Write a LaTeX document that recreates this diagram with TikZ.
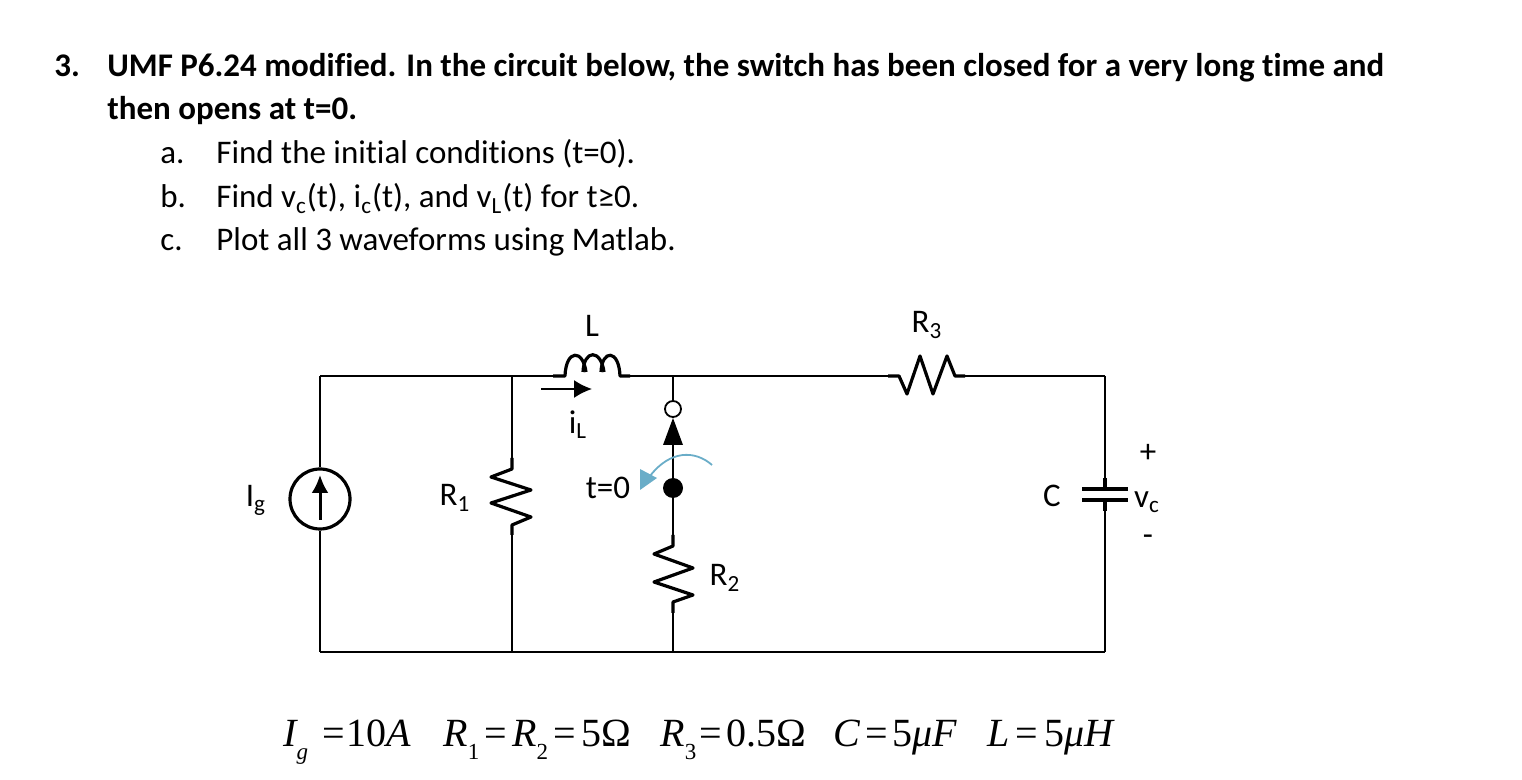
\documentclass[tikz,border=0pt]{standalone}
\usepackage{fontspec}
\usepackage{tikz}
\usetikzlibrary{arrows.meta}
\setmainfont[Ligatures=NoCommon]{Carlito}
\newfontfamily\timesfont{Liberation Serif}
\definecolor{swing}{HTML}{6AADC8}

\tikzset{
    wire/.style={color=black, line width=0.9pt},
    part/.style={color=black, line width=1.6pt, line join=round},
    line1/.style={anchor=base west, inner sep=0pt, font=\fontsize{16.5}{18}\selectfont\bfseries},
    line2/.style={anchor=base west, inner sep=0pt, font=\fontsize{16.5}{18}\selectfont},
    lab/.style={inner sep=0pt, font=\fontsize{16.5}{18}\selectfont},
    given/.style={anchor=base west, inner sep=0pt, font=\fontsize{20}{22}\timesfont\itshape},
}
\newcommand{\sbs}[1]{\textsubscript{#1}}
\newcommand{\low}[1]{\raisebox{-6pt}{\fontsize{11.5}{12}\selectfont #1}}
\newcommand{\upr}[1]{{\upshape #1}}

\begin{document}
\begin{tikzpicture}[x=0.5pt,y=-0.5pt]
    \def\xa{320}
    \def\xb{512}
    \def\xc{673}
    \def\xd{1105}
    \def\ya{376}
    \def\yb{652}

    \useasboundingbox (0,0) rectangle (1522,780);

    % question text
    \node[line1] (num) at (54,77) {3.};
    \node[line1] (title) at (107,77) {UMF P6.24 modified. In the circuit below, the switch has been closed for a very long time and};
    \node[line1] (title2) at (107,120) {then opens at t=0.};
    \node[line2] (ma) at (160,164) {a.};
    \node[line2] (ta) at (216,164) {Find the initial conditions (t=0).};
    \node[line2] (mb) at (160,208) {b.};
    \node[line2] (tb) at (216,208) {Find v\sbs{c}(t), i\sbs{c}(t), and v\sbs{L}(t) for t≥0.};
    \node[line2] (mc) at (160,251) {c.};
    \node[line2] (tc) at (216,251) {Plot all 3 waveforms using Matlab.};

    \coordinate (tl) at (\xa,\ya);
    \coordinate (bl) at (\xa,\yb);
    \coordinate (ta1) at (\xb,\ya);
    \coordinate (ba1) at (\xb,\yb);
    \coordinate (ta2) at (\xc,\ya);
    \coordinate (ba2) at (\xc,\yb);
    \coordinate (tr) at (\xd,\ya);
    \coordinate (br) at (\xd,\yb);

    % source
    \node[circle, draw, line width=1.6pt, minimum size=30pt, inner sep=0pt] (ig) at (\xa,499) {};
    \draw[wire] (tl) -- (ig);
    \draw[wire] (ig) -- (bl);
    \draw[line width=1.5pt, -{Latex[length=9pt,width=8.5pt]}] (\xa,520) -- (\xa,475);

    % inductor
    \coordinate (la) at (553,\ya);
    \coordinate (lb) at (630,\ya);
    \draw[wire] (ta1) -- (la);
    \draw[part] (la) -- (565,\ya) .. controls (566,349) and (583,349) .. (586,372);
    \draw[part] (583,372) .. controls (584,349) and (601,349) .. (604,372);
    \draw[part] (601,372) .. controls (602,349) and (619,349) .. (620,\ya) -- (lb);
    \draw[wire] (lb) -- (ta2);

    % R3
    \coordinate (ra) at (888,\ya);
    \coordinate (rb) at (965,\ya);
    \draw[wire] (ta2) -- (ra);
    \draw[part] (ra) -- (899,\ya) -- (907,394) -- (920,356) -- (933,394) -- (947,356) -- (955,\ya) -- (rb);
    \draw[wire] (rb) -- (tr);

    % R1
    \coordinate (r1a) at (\xb,458);
    \coordinate (r1b) at (\xb,535);
    \draw[wire] (ta1) -- (r1a);
    \draw[part] (r1a) -- (\xb,469) -- (491,477) -- (531,490) -- (491,503) -- (531,517) -- (\xb,525) -- (r1b);
    \draw[wire] (r1b) -- (ba1);

    % switch
    \node[circle, draw, line width=0.9pt, fill=white, minimum size=8pt, inner sep=0pt] (sw) at (\xc,409) {};
    \node[circle, fill=black, minimum size=10pt, inner sep=0pt] (pole) at (\xc,488) {};
    \coordinate (tri) at (\xc,445);
    \draw[wire] (ta2) -- (sw);
    \draw[wire] (tri) -- (pole);
    \fill (\xc,418) -- (663,445) -- (683,445) -- cycle;
    \draw[color=swing, line width=0.9pt] (712,465) .. controls (695,450) and (670,450) .. (650,476);
    \fill[swing] (640,490) -- (640,469) -- (657,478) -- cycle;

    % R2
    \coordinate (r2a) at (\xc,535);
    \coordinate (r2b) at (\xc,613);
    \draw[wire] (pole) -- (r2a);
    \draw[part] (r2a) -- (\xc,546) -- (654,554) -- (693,568) -- (654,582) -- (693,595) -- (\xc,602) -- (r2b);
    \draw[wire] (r2b) -- (ba2);

    % capacitor
    \coordinate (ca) at (\xd,478);
    \coordinate (cb) at (\xd,511);
    \draw[wire] (tr) -- (ca);
    \draw[part] (ca) -- (\xd,489);
    \draw[part] (\xd,500) -- (cb);
    \draw[wire] (cb) -- (br);
    \draw[part] (1082,489) -- (1128,489);
    \draw[part] (1082,500) -- (1128,500);

    % rails
    \draw[wire] (tl) -- (ta1);
    \draw[wire] (bl) -- (ba1);
    \draw[wire] (ba1) -- (ba2);
    \draw[wire] (ba2) -- (br);

    % arrow for the inductor current
    \coordinate (ila) at (541,389);
    \coordinate (ilb) at (592,389);
    \draw[wire, -{Latex[length=9pt,width=9pt]}] (ila) -- (ilb);

    % labels
    \node[lab] (lig) at (256,500) {I\sbs{g}};
    \node[lab] (lr1) at (455,498) {R\sbs{1}};
    \node[lab] (lr2) at (725,578) {R\sbs{2}};
    \node[lab] (lr3) at (927,325) {R\sbs{3}};
    \node[lab] (ll) at (592,326) {L};
    \node[lab] (lil) at (578,425) {i\sbs{L}};
    \node[lab] (lt) at (608,488) {t=0};
    \node[lab] (lc) at (1052,496) {C};
    \node[lab] (lvc) at (1147,502) {v\sbs{c}};
    \node[lab] (lp) at (1148,453) {+};
    \node[lab] (lm) at (1148,540) {-};

    % values
    \node[given] (gi) at (283,747) {I\low{g}\kern7pt\upr{=\kern1pt 10}A};
    \node[given] (gr) at (443,747) {R\low{\upr{1}}\kern2.6pt\upr{=}\kern2.6pt R\low{\upr{2}}\kern2.6pt\upr{=\kern2.6pt 5Ω}};
    \node[given] (gt) at (660,747) {R\low{\upr{3}}\kern1.8pt\upr{=\kern1.8pt 0.5Ω}};
    \node[given] (gc) at (833,747) {C\kern2.5pt\upr{=\kern2.5pt 5}μF};
    \node[given] (gl) at (987,747) {L\kern3pt\upr{=\kern3pt 5}μH};
\end{tikzpicture}
\end{document}
